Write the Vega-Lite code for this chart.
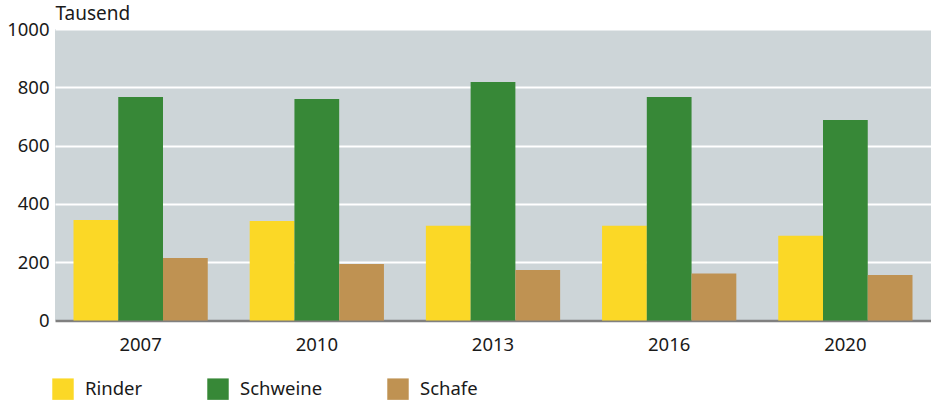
{
  "$schema": "https://vega.github.io/schema/vega-lite/v6.json",
  "autosize": {"type": "none"},
  "width": 876,
  "height": 291.5,
  "padding": {"left": 55, "top": 29, "right": 0, "bottom": 81.5},
  "background": "white",
  "config": {
    "view": {"fill": "#cdd5d8", "stroke": null},
    "font": "Noto Sans",
    "axis": {"labelFont": "Noto Sans", "titleFont": "Noto Sans", "labelColor": "#1a1a1a", "titleColor": "#1a1a1a"},
    "legend": {"labelFont": "Noto Sans", "labelColor": "#1a1a1a"}
  },
  "data": {
    "values": [
      {"Jahr": "2007", "Tierart": "Rinder", "Wert": 345},
      {"Jahr": "2007", "Tierart": "Schweine", "Wert": 767},
      {"Jahr": "2007", "Tierart": "Schafe", "Wert": 214},
      {"Jahr": "2010", "Tierart": "Rinder", "Wert": 341},
      {"Jahr": "2010", "Tierart": "Schweine", "Wert": 760},
      {"Jahr": "2010", "Tierart": "Schafe", "Wert": 194},
      {"Jahr": "2013", "Tierart": "Rinder", "Wert": 325},
      {"Jahr": "2013", "Tierart": "Schweine", "Wert": 818},
      {"Jahr": "2013", "Tierart": "Schafe", "Wert": 173},
      {"Jahr": "2016", "Tierart": "Rinder", "Wert": 325},
      {"Jahr": "2016", "Tierart": "Schweine", "Wert": 767},
      {"Jahr": "2016", "Tierart": "Schafe", "Wert": 161},
      {"Jahr": "2020", "Tierart": "Rinder", "Wert": 291},
      {"Jahr": "2020", "Tierart": "Schweine", "Wert": 688},
      {"Jahr": "2020", "Tierart": "Schafe", "Wert": 156}
    ]
  },
  "mark": {"type": "bar"},
  "encoding": {
    "x": {
      "field": "Jahr",
      "type": "nominal",
      "scale": {"paddingInner": 0.238, "paddingOuter": 0.105},
      "axis": {
        "title": null,
        "labelAngle": 0,
        "labelFontSize": 18.5,
        "labelPadding": 15,
        "ticks": false,
        "domain": true,
        "domainColor": "#808080",
        "domainWidth": 2.5,
        "grid": false
      }
    },
    "xOffset": {
      "field": "Tierart",
      "type": "nominal",
      "sort": ["Rinder", "Schweine", "Schafe"],
      "scale": {"paddingInner": 0, "paddingOuter": 0}
    },
    "y": {
      "field": "Wert",
      "type": "quantitative",
      "scale": {"domain": [0, 1000], "nice": false},
      "axis": {
        "title": "Tausend",
        "titleAngle": 0,
        "titleX": 0,
        "titleY": -6,
        "titleAlign": "left",
        "titleBaseline": "bottom",
        "titleFontSize": 19,
        "titleFontWeight": "normal",
        "values": [0, 200, 400, 600, 800, 1000],
        "format": "d",
        "labelFontSize": 18.5,
        "labelPadding": 6,
        "ticks": false,
        "domain": false,
        "grid": true,
        "gridColor": "white",
        "gridWidth": 2,
        "gridOpacity": 1
      }
    },
    "color": {
      "field": "Tierart",
      "type": "nominal",
      "sort": ["Rinder", "Schweine", "Schafe"],
      "scale": {"domain": ["Rinder", "Schweine", "Schafe"], "range": ["#fbd826", "#378837", "#bf9252"]},
      "legend": {
        "title": null,
        "orient": "none",
        "direction": "horizontal",
        "legendX": -3,
        "legendY": 349,
        "symbolType": "square",
        "symbolSize": 460,
        "symbolStrokeWidth": 0,
        "symbolOpacity": 1,
        "labelFontSize": 18.5,
        "labelOffset": 11,
        "columnPadding": 64
      }
    }
  }
}
